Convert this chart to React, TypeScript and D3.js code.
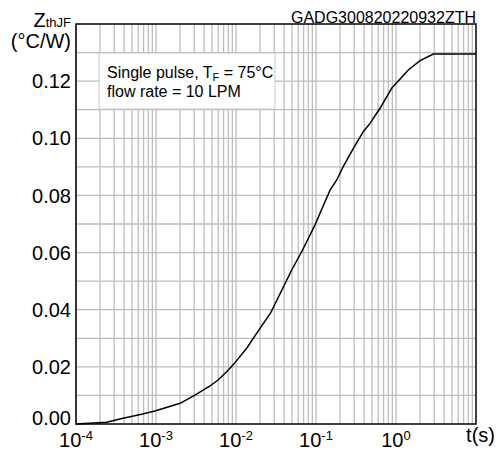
import React from "react";
import * as d3 from "d3";

const times = [1e-4, 2.42e-4, 3.87e-4, 6.6e-4, 9.7e-4, 2.0e-3, 3.07e-3, 4.73e-3, 5.96e-3, 7.65e-3, 9.2e-3, 0.0136, 0.0181, 0.0272, 0.0497, 0.0663, 0.0972, 0.15, 0.1815, 0.219, 0.293, 0.39, 0.473, 0.631, 0.883, 1.425, 2.0, 2.93, 10];
const zth = [0.0, 0.0006, 0.002, 0.0034, 0.00455, 0.00725, 0.0101, 0.0133, 0.0154, 0.0183, 0.0207, 0.0265, 0.0317, 0.039, 0.0539, 0.0603, 0.0697, 0.0819, 0.0854, 0.0901, 0.0965, 0.1023, 0.1052, 0.1105, 0.1175, 0.1239, 0.1272, 0.1295, 0.1295];
const yTicks = [0, 0.02, 0.04, 0.06, 0.08, 0.1, 0.12];
const xExponents = [-4, -3, -2, -1, 0];
const docId = "GADG300820220932ZTH";

const W = 496, H = 453;
const L = 76, R = 476, T = 24, B = 424;
const FONT = "Arial, 'Liberation Sans', Helvetica, sans-serif";

export default function App() {
  const x = d3.scaleLog().domain([1e-4, 10]).range([L, R]);
  const y = d3.scaleLinear().domain([0, 0.14]).range([B, T]);
  const vGrid: number[] = [];
  for (let e = -4; e <= 0; e++) for (let k = 1; k <= 9; k++) vGrid.push(k * Math.pow(10, e));
  const hGrid = d3.range(1, 14).map((i) => i * 0.01);
  const line = d3.line<number>().x((_, i) => x(times[i])).y((d) => y(d));
  return (
    <svg width={W} height={H} style={{ position: "fixed", left: 0, top: 0, background: "#fff" }} fontFamily={FONT}>
      <rect x={0} y={0} width={W} height={H} fill="#fff" />
      {vGrid.map((v, i) => (
        <line key={"v" + i} x1={x(v)} x2={x(v)} y1={T} y2={B} stroke="#bdbdbd" strokeWidth={1.3} />
      ))}
      {hGrid.map((v, i) => (
        <line key={"h" + i} x1={L} x2={R} y1={y(v)} y2={y(v)} stroke="#bdbdbd" strokeWidth={1.3} />
      ))}
      <rect x={99} y={53} width={176} height={56} fill="#fff" stroke="#c8c8c8" strokeWidth={1} />
      <text x={107} y={77.5} fontSize={16} fill="#000">
        Single pulse, T<tspan fontSize={11} dy={3}>F</tspan><tspan dy={-3}> = 75°C</tspan>
      </text>
      <text x={107} y={96.5} fontSize={16} fill="#000">flow rate = 10 LPM</text>
      <path d={line(zth) || ""} fill="none" stroke="#000" strokeWidth={1.5} />
      <rect x={L} y={T} width={R - L} height={B - T} fill="none" stroke="#000" strokeWidth={1.5} />
      {yTicks.map((v, i) => (
        <text key={"y" + i} x={71} y={y(v) - (v === 0 ? 6 : 0)} dy="0.36em" textAnchor="end" fontSize={20} fill="#000">
          {v.toFixed(2)}
        </text>
      ))}
      {xExponents.map((e, i) => (
        <text key={"x" + i} x={x(Math.pow(10, e))} y={446.5} textAnchor="middle" fontSize={20} fill="#000">
          10<tspan fontSize={13} dy={-7}>{e}</tspan>
        </text>
      ))}
      <text x={495} y={442} textAnchor="end" fontSize={20} fill="#000">t(s)</text>
      <text x={71} y={26.5} textAnchor="end" fontSize={20} fill="#000">
        Z<tspan fontSize={13}>thJF</tspan>
      </text>
      <text x={71} y={47.5} textAnchor="end" fontSize={20} fill="#000">(°C/W)</text>
      <text x={R} y={22.5} textAnchor="end" fontSize={16} fill="#000">{docId}</text>
    </svg>
  );
}
